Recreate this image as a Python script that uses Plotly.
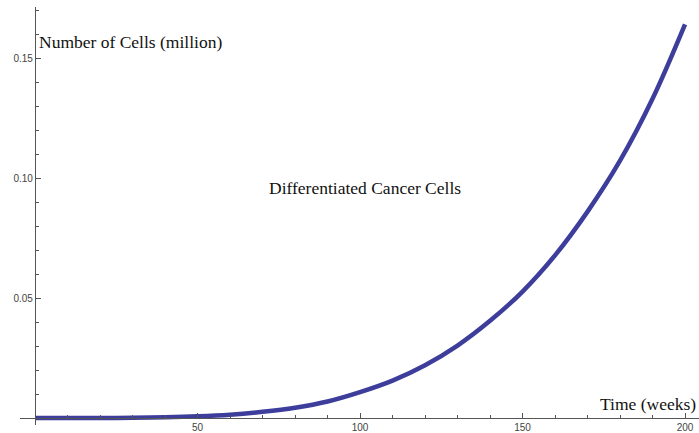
import plotly.graph_objects as go

# Data (weeks, million cells)
weeks = [0, 10, 20, 30, 40, 50, 60, 70, 80, 90, 100, 110, 120, 130, 140, 150, 160, 170, 180, 190, 200]
cells = [0.0000, 0.0000, 0.0000, 0.0001, 0.0003, 0.0007, 0.0014, 0.0026, 0.0043, 0.0069,
         0.0108, 0.0156, 0.0220, 0.0302, 0.0405, 0.0527, 0.0678, 0.0860, 0.1072, 0.1330, 0.1640]

x_ticks = [50, 100, 150, 200]
y_ticks = [0.05, 0.10, 0.15]

x_label = "Time (weeks)"
y_label = "Number of Cells (million)"
title_text = "Differentiated Cancer Cells"

xmin, xmax = -4.63, 204.3
ymin, ymax = -0.0029, 0.17125

fig = go.Figure()
fig.add_trace(go.Scatter(
    x=weeks, y=cells, mode="lines",
    line=dict(color="#3d3d9c", width=4.5, shape="spline", smoothing=1.0),
    hoverinfo="skip", showlegend=False,
))

axis_color = "#555555"
fig.update_layout(
    width=699, height=433,
    margin=dict(l=20, r=0, t=7, b=8),
    paper_bgcolor="white", plot_bgcolor="white",
    xaxis=dict(
        range=[xmin, xmax], showgrid=False, zeroline=False,
        showline=True, linecolor=axis_color, linewidth=1.3,
        anchor="free", position=(0 - ymin) / (ymax - ymin),
        tickvals=x_ticks, ticks="inside", ticklen=5, tickcolor=axis_color, tickwidth=1,
        tickfont=dict(family="Liberation Sans", size=10, color="#444444"),
        minor=dict(dtick=10, tick0=0, ticks="inside", ticklen=3, tickcolor=axis_color),
    ),
    yaxis=dict(
        range=[ymin, ymax], showgrid=False, zeroline=False,
        showline=True, linecolor=axis_color, linewidth=1.3,
        anchor="free", position=(0 - xmin) / (xmax - xmin),
        tickvals=y_ticks, tickformat=".2f", ticks="inside", ticklen=5, tickcolor=axis_color, tickwidth=1,
        tickfont=dict(family="Liberation Sans", size=10, color="#444444"),
        minor=dict(dtick=0.01, tick0=0, ticks="inside", ticklen=3, tickcolor=axis_color),
    ),
    annotations=[
        dict(text=y_label, x=0.6, y=0.1567, xref="x", yref="y", xanchor="left", yanchor="middle",
             showarrow=False, font=dict(family="Liberation Serif", size=17.5, color="#111111")),
        dict(text=x_label, x=204.0, y=0.0057, xref="x", yref="y", xanchor="right", yanchor="middle",
             showarrow=False, font=dict(family="Liberation Serif", size=17.5, color="#111111")),
        dict(text=title_text, x=101.5, y=0.0958, xref="x", yref="y", xanchor="center", yanchor="middle",
             showarrow=False, font=dict(family="Liberation Serif", size=17.5, color="#111111")),
    ],
)

fig.write_html("out.html", config={"displayModeBar": False},
               post_script="document.body.style.margin='0';")
